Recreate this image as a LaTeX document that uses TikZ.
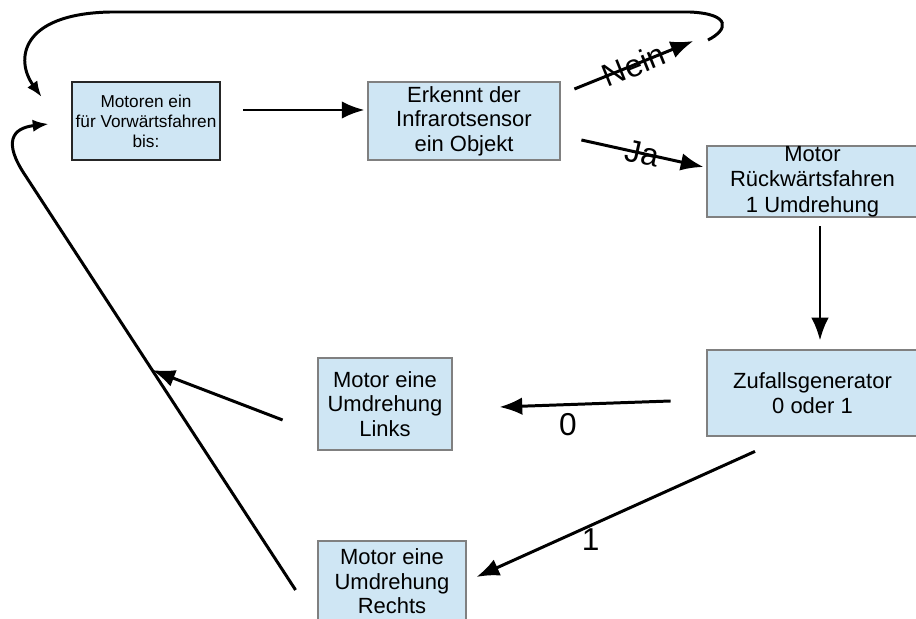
\documentclass[tikz,border=0pt]{standalone}
\usepackage{fontspec}
\setmainfont{Liberation Sans}
\usetikzlibrary{arrows.meta,positioning,calc}

\definecolor{boxblue}{RGB}{207,230,244}

\begin{document}
\begin{tikzpicture}[
    box/.style={draw=black!50, fill=boxblue, line width=1.6pt, align=center,
                inner sep=0pt, font=\fontsize{12.5}{14}\selectfont},
    arr/.style={line width=1.7pt, -{Latex[length=13pt,width=10pt]}},
    looparr/.style={line width=1.7pt, -{Latex[length=9pt,width=7pt]}},
    lbl/.style={font=\fontsize{18}{20}\selectfont, inner sep=1pt}
  ]
  \useasboundingbox (0,0) rectangle (18.32,12.38);
  \begin{scope}
    \node[box, draw=black!85, minimum width=2.96cm, minimum height=1.56cm,
          font=\fontsize{9.8}{11.3}\selectfont] (motor) at (2.92,9.96) {Motoren ein\\für Vorwärtsfahren\\bis:};
    \node[box, minimum width=3.84cm, minimum height=1.56cm] (ir) at (9.28,9.96) {Erkennt der\\Infrarotsensor\\ein Objekt};
    \node[box, minimum width=4.22cm, minimum height=1.42cm,
          font=\fontsize{12.5}{14.5}\selectfont] (rueck) at (16.25,8.75) {Motor\\Rückwärtsfahren\\1 Umdrehung};
    \node[box, minimum width=4.22cm, minimum height=1.72cm] (zufall) at (16.25,4.52) {Zufallsgenerator\\0 oder 1};
    \node[box, minimum width=2.68cm, minimum height=1.84cm] (links) at (7.70,4.30) {Motor eine\\Umdrehung\\Links};
    \node[box, minimum width=2.96cm, minimum height=1.62cm] (rechts) at (7.84,0.75) {Motor eine\\Umdrehung\\Rechts};
    \coordinate (neinend) at ($(ir.east)+(2.64,1.60)$);
    \coordinate (loopstart) at (14.16,11.58);
    \draw[arr] ($(motor.east)+(0.44,0.22)$) -- ($(ir.west)+(-0.04,0.22)$);
    \draw[arr] ($(ir.east)+(0.26,0.64)$) -- node[lbl, sloped] {Nein} (neinend);
    \draw[looparr] (loopstart) .. controls (14.56,11.78) and (14.64,12.10) .. (13.80,12.14)
          -- (2.20,12.14) .. controls (0.40,12.10) and (0.30,11.18) .. ($(motor.west)+(-0.58,0.48)$);
    \draw[arr] ($(ir.east)+(0.40,-0.38)$) -- node[lbl, sloped] {Ja} ($(rueck.west)+(-0.04,0.29)$);
    \draw[arr] ($(rueck.south)+(0.15,-0.16)$) -- ($(zufall.north)+(0.15,0.16)$);
    \draw[arr] ($(zufall.west)+(-0.70,-0.16)$) -- node[lbl, below=3pt, pos=0.6] {0} ($(links.east)+(0.92,-0.06)$);
    \draw[arr] ($(zufall.south)+(-1.15,-0.28)$) -- node[lbl, below, pos=0.59] {1} ($(rechts.east)+(0.18,0.09)$);
    \draw[looparr] ($(rechts.west)+(-0.42,-0.17)$) -- coordinate[pos=0.53] (merge) (0.50,8.88)
          .. controls (0.06,9.54) and (0.24,9.82) .. ($(motor.west)+(-0.44,-0.06)$);
    \draw[arr] ($(links.west)+(-0.68,-0.32)$) -- (merge);
  \end{scope}
\end{tikzpicture}
\end{document}
